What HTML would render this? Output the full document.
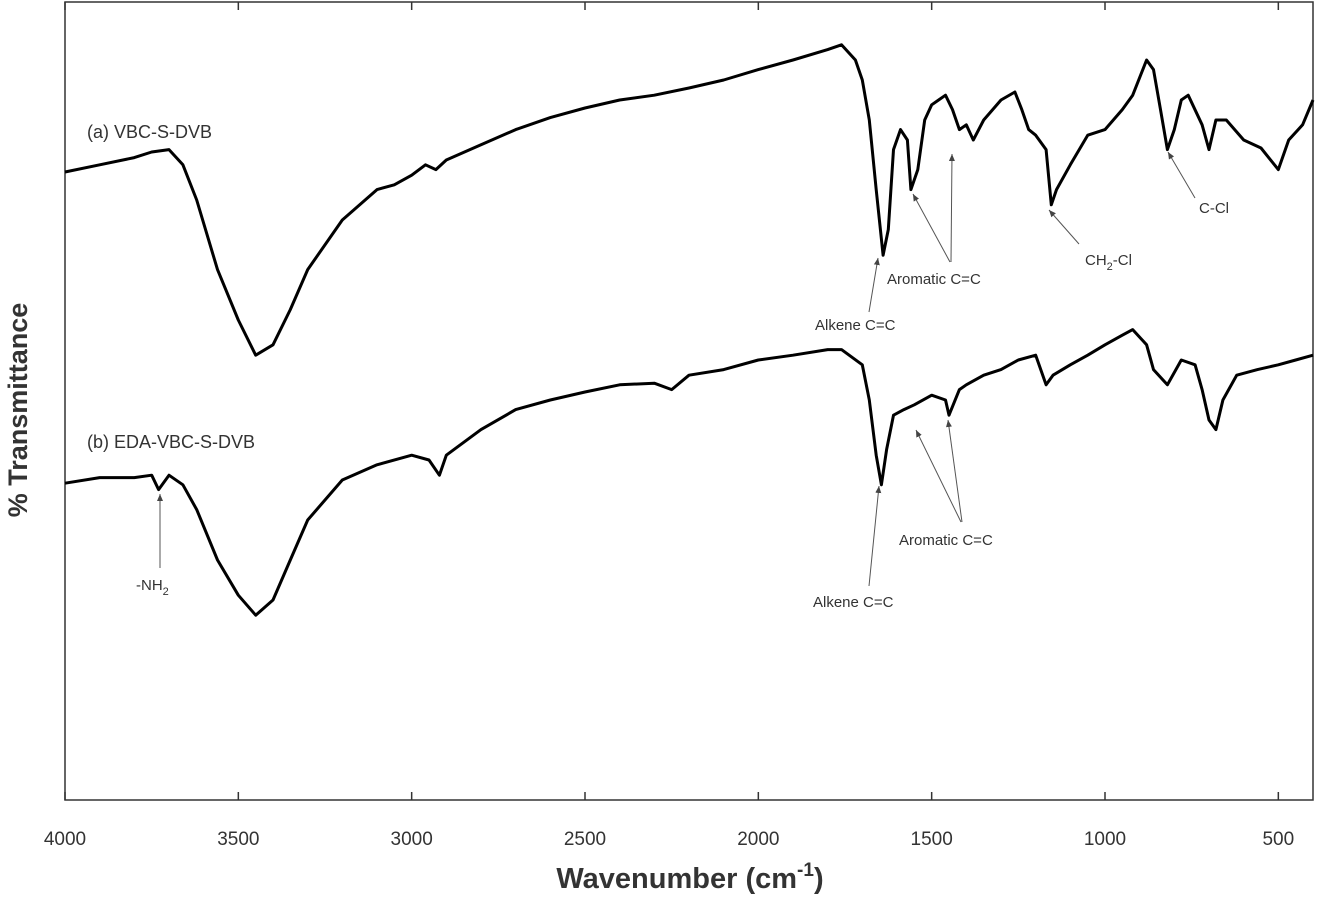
<!DOCTYPE html>
<html><head><meta charset="utf-8">
<style>
html,body{margin:0;padding:0;background:#fff;}
svg{display:block;font-family:"Liberation Sans",Arial,sans-serif;}
</style></head>
<body>
<svg id="chart" width="1318" height="898" viewBox="0 0 1318 898">
  <rect x="65" y="2" width="1248" height="798" fill="none" stroke="#333" stroke-width="1.5"/>
  <g id="ticks"></g>
  <g id="series"></g>
  <text x="690" y="888" font-size="29" font-weight="bold" text-anchor="middle" fill="#333">Wavenumber (cm<tspan dy="-12" font-size="19">-1</tspan><tspan dy="12">)</tspan></text>
  <text transform="translate(27,410) rotate(-90)" font-size="27" font-weight="bold" text-anchor="middle" fill="#333">% Transmittance</text>
  <g font-size="15" fill="#333">
    <text x="87" y="138" font-size="18">(a) VBC-S-DVB</text>
    <text x="87" y="448" font-size="18">(b) EDA-VBC-S-DVB</text>
    <text x="815" y="330">Alkene C=C</text>
    <text x="887" y="284">Aromatic C=C</text>
    <text x="1085" y="265">CH<tspan dy="5" font-size="11">2</tspan><tspan dy="-5">-Cl</tspan></text>
    <text x="1199" y="213">C-Cl</text>
    <text x="136" y="590">-NH<tspan dy="5" font-size="11">2</tspan></text>
    <text x="813" y="607">Alkene C=C</text>
    <text x="899" y="545">Aromatic C=C</text>
  </g>
  <defs><marker id="ah" markerWidth="8" markerHeight="8" refX="7" refY="4" orient="auto"><path d="M0,1 L7,4 L0,7 z" fill="#444"/></marker></defs>
  <g stroke="#555" stroke-width="1" marker-end="url(#ah)">
    <line x1="869" y1="312" x2="878" y2="258"/>
    <line x1="950" y1="262" x2="913" y2="194"/>
    <line x1="951" y1="262" x2="952" y2="154"/>
    <line x1="1079" y1="244" x2="1049" y2="210"/>
    <line x1="1195" y1="198" x2="1168" y2="152"/>
    <line x1="160" y1="568" x2="160" y2="494"/>
    <line x1="869" y1="586" x2="879" y2="486"/>
    <line x1="961" y1="522" x2="916" y2="430"/>
    <line x1="962" y1="522" x2="948" y2="420"/>
  </g>
</svg>
<script>
const tickLabels = [4000, 3500, 3000, 2500, 2000, 1500, 1000, 500];
const waveA = [4000,3900,3800,3750,3700,3660,3620,3560,3500,3450,3400,3350,3300,3200,3100,3050,3000,2960,2930,2900,2800,2700,2600,2500,2400,2300,2200,2100,2000,1900,1800,1760,1720,1700,1680,1660,1640,1625,1610,1590,1570,1560,1540,1520,1500,1480,1460,1440,1420,1400,1380,1350,1300,1260,1240,1220,1200,1170,1155,1140,1100,1050,1000,950,920,880,860,840,820,800,780,760,720,700,680,650,600,550,500,470,430,400];
const seriesA = [78.5,79.4,80.3,81,81.3,79.4,75,66.3,60,55.6,56.9,61.3,66.3,72.5,76.3,76.9,78.1,79.4,78.8,80,81.9,83.8,85.3,86.5,87.5,88.1,89,90,91.3,92.5,93.8,94.4,92.5,90,85,76.3,68.1,71.3,81.3,83.8,82.5,76.3,78.8,85,86.9,87.5,88.1,86.3,83.8,84.4,82.5,85,87.5,88.5,86.3,83.8,83.1,81.3,74.4,76.3,79.4,83.1,83.8,86.3,88.1,92.5,91.3,86.3,81.3,83.8,87.5,88.1,84.4,81.3,85,85,82.5,81.5,78.8,82.5,84.4,87.5];
const waveB = [4000,3900,3800,3750,3730,3700,3660,3620,3560,3500,3450,3400,3350,3300,3200,3100,3000,2950,2920,2900,2800,2700,2600,2500,2400,2300,2250,2200,2100,2000,1900,1800,1760,1700,1680,1660,1645,1630,1610,1580,1550,1500,1460,1450,1420,1400,1350,1300,1250,1200,1170,1150,1100,1050,1000,950,920,880,860,820,780,740,720,700,680,660,620,560,500,450,400];
const seriesB = [39.6,40.3,40.3,40.6,38.8,40.6,39.4,36.3,30,25.6,23.1,25,30,35,40,41.9,43.1,42.5,40.6,43.1,46.3,48.8,50,51,51.9,52.1,51.3,53.1,53.8,55,55.6,56.3,56.3,54.4,50,43.1,39.4,43.8,48.1,48.8,49.4,50.6,50,48.1,51.3,51.9,53.1,53.8,55,55.6,51.9,53.1,54.4,55.6,56.9,58.1,58.8,56.9,53.8,51.9,55,54.4,51.3,47.5,46.3,50,53.1,53.8,54.4,55,55.6];

const X0=65, X1=1313, Y0=800, Y1=0;
const xs = w => X0 + (4000 - w) / 3600 * (X1 - X0);
const ys = t => Y0 - t / 100 * (Y0 - Y1);
const NS = 'http://www.w3.org/2000/svg';
const tg = document.getElementById('ticks');
tickLabels.forEach(v => {
  const x = xs(v);
  [[800,792],[2,10]].forEach(p => {
    const l = document.createElementNS(NS,'line');
    l.setAttribute('x1',x); l.setAttribute('x2',x);
    l.setAttribute('y1',p[0]); l.setAttribute('y2',p[1]);
    l.setAttribute('stroke','#333'); l.setAttribute('stroke-width','1.5');
    
    
    tg.appendChild(l);
  });
  const t = document.createElementNS(NS,'text');
  t.setAttribute('x',x); t.setAttribute('y',845);
  t.setAttribute('text-anchor','middle'); t.setAttribute('font-size','19'); t.setAttribute('fill','#333');
  t.textContent = v;
  
  
  tg.appendChild(t);
});
const sg = document.getElementById('series');
function drawLine(w, v, name) {
  const p = document.createElementNS(NS,'path');
  p.setAttribute('d', w.map((ww,i)=>(i?'L':'M')+xs(ww).toFixed(1)+','+ys(v[i]).toFixed(1)).join(' '));
  p.setAttribute('fill','none'); p.setAttribute('stroke','#000');
  p.setAttribute('stroke-width','3'); p.setAttribute('stroke-linejoin','round');
  
  
  sg.appendChild(p);
}
drawLine(waveA, seriesA, 'spectrum-a-line');
drawLine(waveB, seriesB, 'spectrum-b-line');
</script>
</body></html>
